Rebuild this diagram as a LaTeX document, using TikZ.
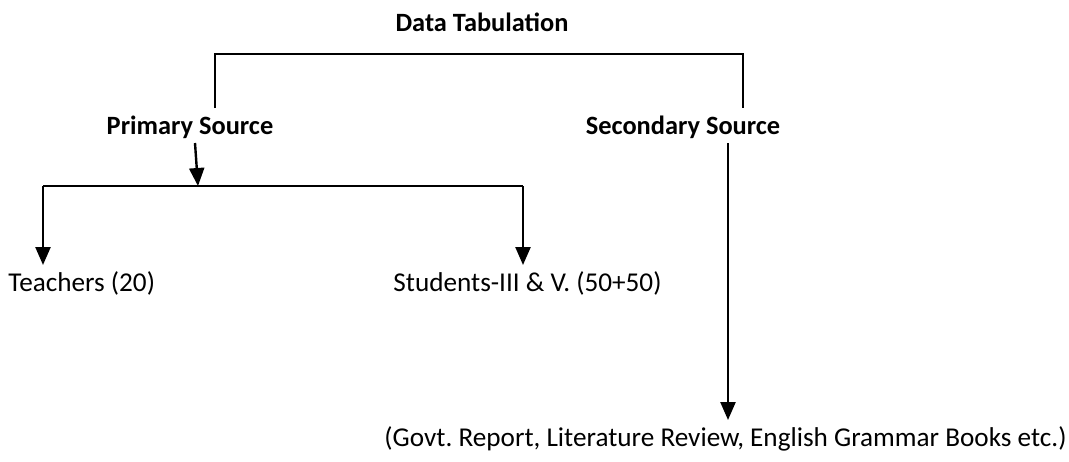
\documentclass[tikz,border=0pt]{standalone}
\usepackage{fontspec}
\setmainfont{Carlito}
\usetikzlibrary{arrows.meta}
\frenchspacing

\begin{document}
\begin{tikzpicture}[x=0.5pt,y=0.5pt,yscale=-1,xscale=1,
  lbl/.style={anchor=west,inner sep=0pt,font=\fontsize{13.6}{16}\selectfont},
  head/.style={anchor=center,inner sep=0pt,font=\fontsize{13.2}{16}\selectfont\bfseries},
  ln/.style={line width=1.2pt},
  arr/.style={line width=1.2pt,-{Triangle[width=7.5pt,length=9pt]}}]
\useasboundingbox (0,0) rectangle (1069,461);

% Text Node
\node[head] (title) at (482,22) {Data Tabulation};
% Text Node
\node[head] (prim) at (190,127) {Primary Source};
% Text Node
\node[head] (sec) at (683,127) {Secondary Source};
% Text Node
\node[lbl] (teach) at (8,283) {Teachers (20)};
% Text Node
\node[lbl] (stud) at (393,283) {Students-III \& V. (50+50)};
% Text Node
\node[lbl] (books) at (384,439) {(Govt. Report, Literature Review, English Grammar Books etc.)};

%Straight Lines: top bracket
\coordinate (topl) at (215,108);
\coordinate (topr) at (743,108);
\draw[ln] (topl) -- (215,54) -- (743,54) -- (topr);

%Straight Lines: primary arrow
\coordinate (primout) at (195,143);
\coordinate (primin) at (198,186);
\draw[arr] (primout) -- (primin);

%Straight Lines: lower bracket
\coordinate (teachin) at (43,265);
\coordinate (studin) at (523,265);
\draw[ln] (primin) -- (43,186);
\draw[ln] (primin) -- (523,186);
\draw[arr] (43,186) -- (teachin);
\draw[arr] (523,186) -- (studin);

%Straight Lines: secondary arrow
\coordinate (secout) at (728,143);
\coordinate (booksin) at (728,420);
\draw[arr] (secout) -- (booksin);

\end{tikzpicture}
\end{document}
